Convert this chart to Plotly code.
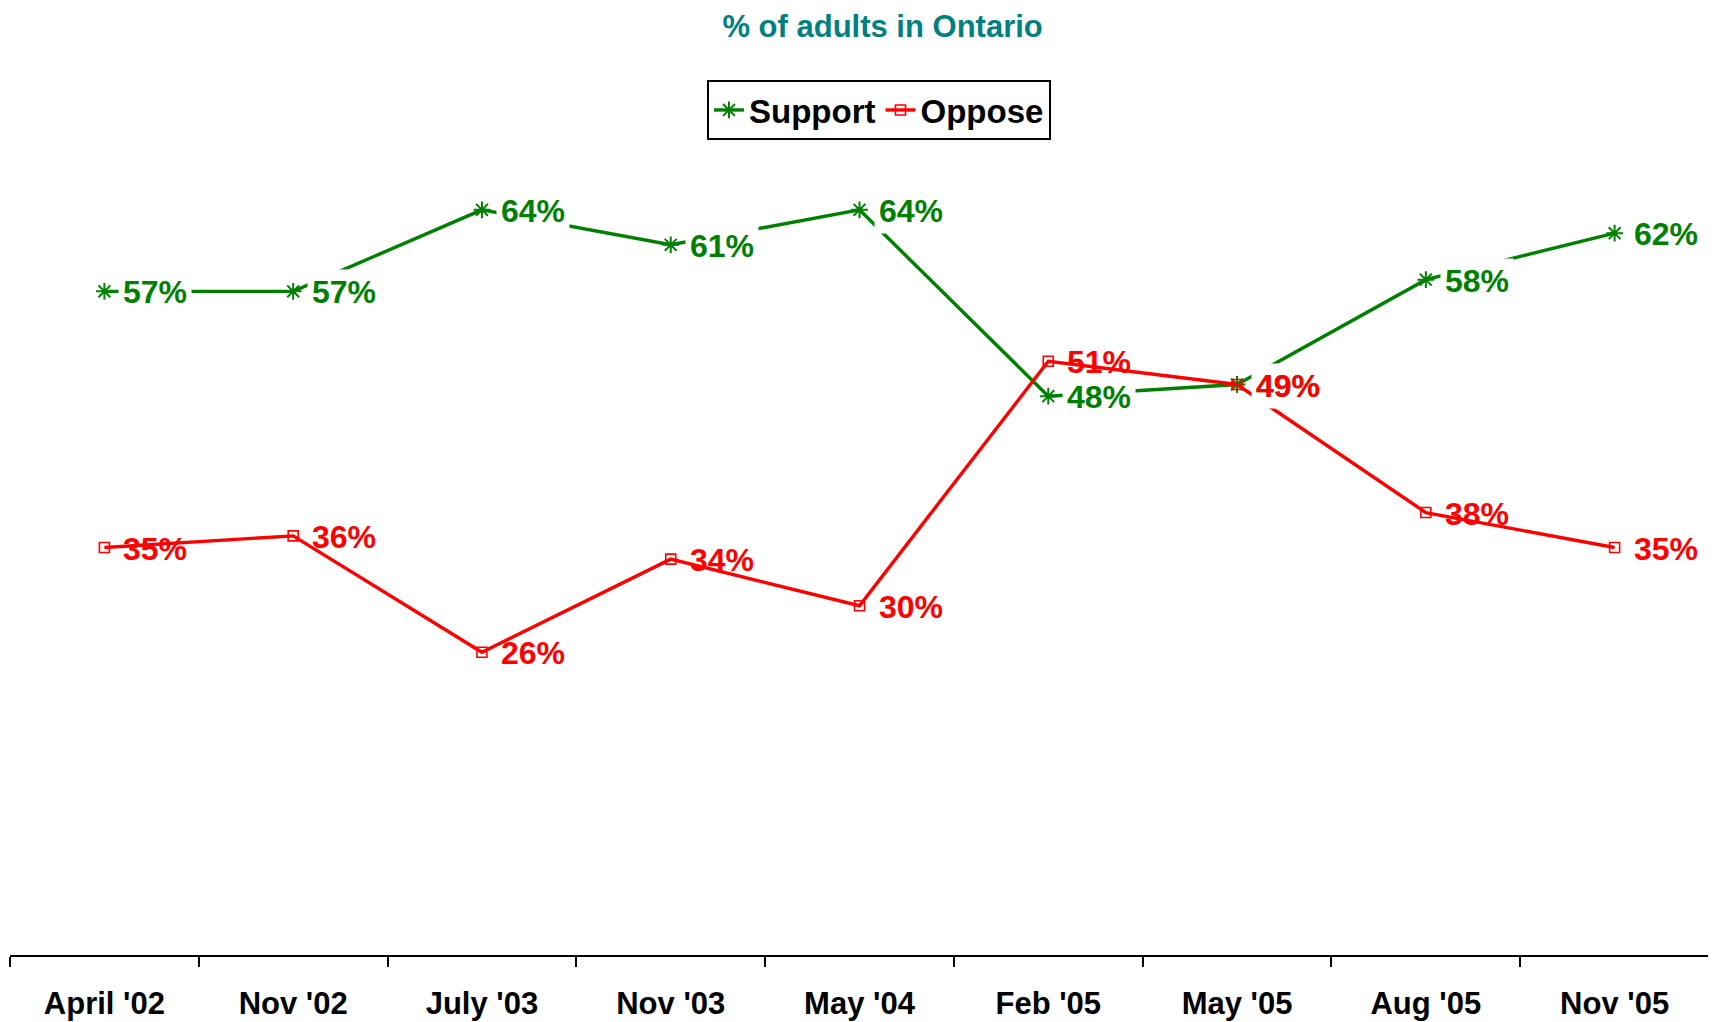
import plotly.graph_objects as go

periods = ["April '02", "Nov '02", "July '03", "Nov '03", "May '04",
           "Feb '05", "May '05", "Aug '05", "Nov '05"]
support = [57, 57, 64, 61, 64, 48, 49, 58, 62]
oppose = [35, 36, 26, 34, 30, 51, 49, 38, 35]

GREEN = "#008000"
RED = "#FF0000"
FONT = "Liberation Sans, Arial, sans-serif"

# the page body has an 8px margin, so the figure is laid out 8px in from the window edge
W, H = 1708, 1014

fig = go.Figure()
fig.add_trace(go.Scatter(
    x=periods, y=support, name="Support", mode="lines+markers",
    line=dict(color=GREEN, width=3.4),
    marker=dict(symbol="asterisk-open", size=14, line=dict(color=GREEN, width=2)),
))
fig.add_trace(go.Scatter(
    x=periods, y=oppose, name="Oppose", mode="lines+markers",
    line=dict(color=RED, width=3.4),
    marker=dict(symbol="square-open", size=10, color=RED, line=dict(color=RED, width=1.6)),
))

# data labels: support with white boxes, oppose drawn on top without boxes
for p, v in zip(periods, support):
    fig.add_annotation(x=p, y=v, text=f"{v}%", showarrow=False,
                       xanchor="left", yanchor="middle", xshift=14, yshift=-1,
                       bgcolor="white", borderpad=4,
                       font=dict(family=FONT, size=32, color=GREEN, weight="bold"))
for p, v in zip(periods, oppose):
    fig.add_annotation(x=p, y=v, text=f"{v}%", showarrow=False,
                       xanchor="left", yanchor="middle", xshift=14, yshift=-1,
                       borderpad=4,
                       font=dict(family=FONT, size=32, color=RED, weight="bold"))

fig.update_layout(
    width=W, height=H,
    paper_bgcolor="white", plot_bgcolor="white",
    margin=dict(l=2, r=7, t=132, b=H - 947, autoexpand=False),
    title=dict(text="% of adults in Ontario", x=874.6 / W, xref="container",
               xanchor="center", y=1 - 18 / H, yref="container", yanchor="middle",
               font=dict(family=FONT, size=31, color="#008080", weight="bold")),
    legend=dict(orientation="h", x=(871 - 2) / (W - 9), xanchor="center",
                y=1.0736, yanchor="top",
                bordercolor="black", borderwidth=2, bgcolor="white",
                font=dict(family=FONT, size=33, color="black", weight="bold")),
    xaxis=dict(type="category", range=[-0.5, 8.5], tickson="boundaries",
               ticks="outside", ticklen=10, tickwidth=2, tickcolor="black",
               showline=True, linecolor="black", linewidth=2, showgrid=False,
               ticklabelstandoff=20, automargin=False,
               tickfont=dict(family=FONT, size=31, color="black", weight="bold")),
    yaxis=dict(range=[0, 70], visible=False, showgrid=False, zeroline=False,
               automargin=False),
)

fig.write_html("out.html")
